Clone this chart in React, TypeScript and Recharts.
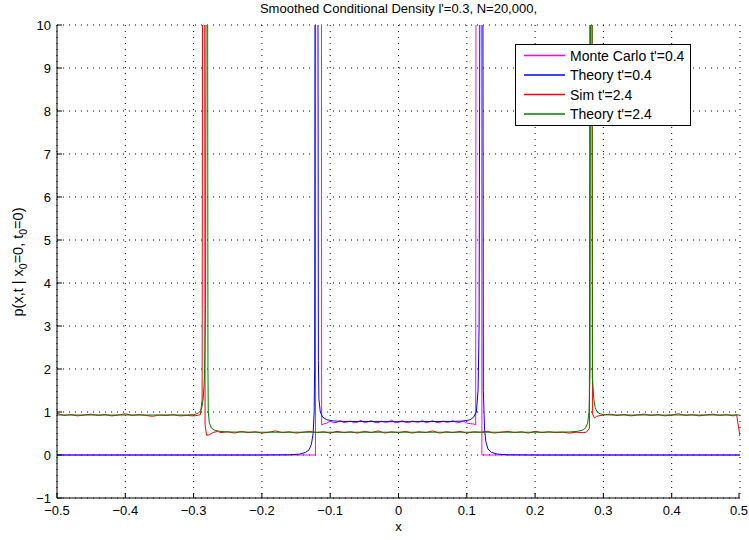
import React from 'react';
import { LineChart, Line, XAxis, YAxis, CartesianGrid } from 'recharts';

const FONT = '"Liberation Sans", Arial, Helvetica, sans-serif';

const xTicks = [-0.5, -0.4, -0.3, -0.2, -0.1, 0, 0.1, 0.2, 0.3, 0.4, 0.5];
const xTickLabels = ['−0.5', '−0.4', '−0.3', '−0.2', '−0.1', '0', '0.1', '0.2', '0.3', '0.4', '0.5'];
const yTicks = [-1, 0, 1, 2, 3, 4, 5, 6, 7, 8, 9, 10];
const yTickLabels = ['−1', '0', '1', '2', '3', '4', '5', '6', '7', '8', '9', '10'];

const seriesNames = ["Monte Carlo t'=0.4", "Theory t'=0.4", "Sim t'=2.4", "Theory t'=2.4"];
const seriesColors = ['#ff00ff', '#0000ff', '#ff0000', '#008000'];

// Monte Carlo t'=0.4 (histogram-like)
const mcX = [
  -0.5, -0.1216, -0.1213, -0.1128, -0.1125, -0.11, -0.105, -0.1, -0.095, -0.09, -0.085, -0.08,
  -0.075, -0.07, -0.065, -0.06, -0.055, -0.05, -0.045, -0.04, -0.035, -0.03, -0.025, -0.02,
  -0.015, -0.01, -0.005, 0, 0.005, 0.01, 0.015, 0.02, 0.025, 0.03, 0.035, 0.04, 0.045, 0.05,
  0.055, 0.06, 0.065, 0.07, 0.075, 0.08, 0.085, 0.09, 0.095, 0.1, 0.105, 0.11, 0.113, 0.1135,
  0.1218, 0.1221, 0.5,
];
const mcY = [
  0, 0, 12, 12, 0.7, 0.72, 0.74, 0.79, 0.75, 0.76, 0.8, 0.75, 0.77, 0.79, 0.75, 0.76, 0.81,
  0.75, 0.77, 0.8, 0.76, 0.75, 0.79, 0.76, 0.77, 0.81, 0.75, 0.76, 0.8, 0.76, 0.75, 0.79, 0.77,
  0.76, 0.81, 0.75, 0.77, 0.8, 0.76, 0.75, 0.79, 0.76, 0.77, 0.8, 0.75, 0.76, 0.79, 0.74, 0.73,
  0.72, 0.7, 12, 12, 0, 0,
];

// Theory t'=0.4
const th04X = [
  -0.5, -0.2, -0.16, -0.145, -0.136, -0.131, -0.1275, -0.125, -0.1235, -0.1228, -0.1222, -0.118,
  -0.1173, -0.1165, -0.1145, -0.111, -0.105, -0.095, -0.08, 0, 0.08, 0.095, 0.105, 0.11, 0.114,
  0.1165, 0.118, 0.1193, 0.1235, 0.1242, 0.126, 0.128, 0.131, 0.136, 0.145, 0.16, 0.2, 0.5,
];
const th04Y = [
  0, 0, 0.005, 0.02, 0.06, 0.12, 0.25, 0.5, 1.0, 2.0, 12, 12, 2.2, 1.3, 1.0, 0.88, 0.82, 0.79,
  0.78, 0.775, 0.78, 0.79, 0.82, 0.88, 1.0, 1.5, 3.0, 12, 12, 1.5, 0.6, 0.3, 0.14, 0.06, 0.02,
  0.005, 0, 0,
];

// Sim t'=2.4
const simX = [
  -0.5, -0.49, -0.48, -0.47, -0.46, -0.45, -0.44, -0.43, -0.42, -0.41, -0.4, -0.39, -0.38,
  -0.37, -0.36, -0.35, -0.34, -0.33, -0.32, -0.31, -0.3, -0.295, -0.29, -0.2875, -0.2868,
  -0.2838, -0.2832, -0.281, -0.277, -0.272, -0.265, -0.26, -0.25, -0.24, -0.23, -0.22, -0.21,
  -0.2, -0.19, -0.18, -0.17, -0.16, -0.15, -0.14, -0.13, -0.12, -0.11, -0.1, -0.09, -0.08,
  -0.07, -0.06, -0.05, -0.04, -0.03, -0.02, -0.01, 0, 0.01, 0.02, 0.03, 0.04, 0.05, 0.06, 0.07,
  0.08, 0.09, 0.1, 0.11, 0.12, 0.13, 0.14, 0.15, 0.16, 0.17, 0.18, 0.19, 0.2, 0.21, 0.22, 0.23,
  0.24, 0.25, 0.26, 0.27, 0.275, 0.2795, 0.2802, 0.2835, 0.2842, 0.287, 0.29, 0.3, 0.31, 0.32,
  0.33, 0.34, 0.35, 0.36, 0.37, 0.38, 0.39, 0.4, 0.41, 0.42, 0.43, 0.44, 0.45, 0.46, 0.47, 0.48,
  0.49, 0.495, 0.5,
];
const simY = [
  0.97, 0.92, 0.94, 0.91, 0.93, 0.95, 0.92, 0.94, 0.91, 0.93, 0.96, 0.92, 0.94, 0.92, 0.9, 0.93,
  0.92, 0.94, 0.91, 0.92, 0.91, 0.92, 0.94, 1.3, 12, 12, 0.7, 0.46, 0.47, 0.52, 0.55, 0.52, 0.54,
  0.51, 0.55, 0.52, 0.54, 0.51, 0.53, 0.56, 0.52, 0.54, 0.51, 0.53, 0.55, 0.52, 0.54, 0.51, 0.55,
  0.52, 0.54, 0.51, 0.55, 0.52, 0.56, 0.51, 0.54, 0.52, 0.55, 0.51, 0.54, 0.52, 0.56, 0.51, 0.54,
  0.52, 0.55, 0.51, 0.54, 0.53, 0.55, 0.51, 0.53, 0.55, 0.52, 0.54, 0.51, 0.55, 0.52, 0.54, 0.52,
  0.53, 0.51, 0.53, 0.52, 0.53, 0.62, 12, 12, 0.95, 0.86, 0.9, 0.93, 0.95, 0.92, 0.94, 0.91,
  0.93, 0.95, 0.92, 0.94, 0.91, 0.93, 0.96, 0.92, 0.94, 0.91, 0.93, 0.95, 0.92, 0.94, 0.91,
  0.94, 0.43,
];

// Theory t'=2.4
const th24X = [
  -0.5, -0.4, -0.31, -0.3, -0.295, -0.291, -0.288, -0.286, -0.284, -0.2825, -0.2815, -0.2795,
  -0.279, -0.2785, -0.277, -0.274, -0.27, -0.262, -0.25, -0.2, 0, 0.2, 0.25, 0.262, 0.27, 0.274,
  0.277, 0.279, 0.2805, 0.2812, 0.2832, 0.2838, 0.286, 0.288, 0.291, 0.295, 0.3, 0.31, 0.4, 0.5,
];
const th24Y = [
  0.93, 0.93, 0.93, 0.94, 0.96, 1.0, 1.1, 1.3, 1.8, 3.5, 12, 12, 2.0, 1.0, 0.75, 0.63, 0.58,
  0.55, 0.535, 0.53, 0.53, 0.53, 0.535, 0.55, 0.58, 0.63, 0.75, 1.0, 2.0, 12, 12, 1.8, 1.3, 1.1,
  1.0, 0.96, 0.94, 0.93, 0.93, 0.93,
];

const toPoints = (xs: number[], ys: number[]) => xs.map((x, i) => ({ x, y: ys[i] }));

const seriesData = [
  toPoints(mcX, mcY),
  toPoints(th04X, th04Y),
  toPoints(simX, simY),
  toPoints(th24X, th24Y),
];

const XTick = (props: any) => {
  const { x, y, payload } = props;
  const i = xTicks.indexOf(payload.value);
  return (
    <g>
      <line x1={x} x2={x} y1={y} y2={y - 5} stroke="#000" />
      <text x={x} y={y + 17} textAnchor="middle" fontSize={13} fontFamily={FONT} fill="#000">
        {xTickLabels[i]}
      </text>
    </g>
  );
};

const YTick = (props: any) => {
  const { x, y, payload } = props;
  const i = yTicks.indexOf(payload.value);
  return (
    <g>
      <line x1={x} x2={x + 5} y1={y} y2={y} stroke="#000" />
      <text x={x - 6} y={y + 4.5} textAnchor="end" fontSize={13} fontFamily={FONT} fill="#000">
        {yTickLabels[i]}
      </text>
    </g>
  );
};

function LegendBox() {
  return (
    <svg
      width={176}
      height={82}
      style={{ position: 'absolute', left: 515, top: 44, display: 'block' }}
    >
      <rect x={0.5} y={0.5} width={175} height={81} fill="#fff" stroke="#000" />
      {seriesNames.map((name, i) => (
        <g key={name}>
          <line
            x1={9}
            x2={50}
            y1={11.5 + i * 19.5}
            y2={11.5 + i * 19.5}
            stroke={seriesColors[i]}
            strokeWidth={1.5}
          />
          <text x={55} y={16.5 + i * 19.5} fontSize={14} fontFamily={FONT} fill="#000">
            {name}
          </text>
        </g>
      ))}
    </svg>
  );
}

export default function App() {
  return (
    <div style={{ position: 'fixed', left: 0, top: 0, width: 749, height: 540, background: '#fff' }}>
      <div
        style={{
          position: 'absolute',
          left: 57,
          width: 683,
          top: 1,
          textAlign: 'center',
          fontFamily: FONT,
          fontSize: 13,
          color: '#000',
        }}
      >
        Smoothed Conditional Density l'=0.3, N=20,000,
      </div>
      <LineChart width={749} height={540} margin={{ top: 25, right: 9, bottom: 0, left: 0 }}>
        <CartesianGrid stroke="#000" strokeDasharray="1 5" />
        <XAxis
          dataKey="x"
          type="number"
          domain={[-0.5, 0.5]}
          ticks={xTicks}
          allowDataOverflow
          height={42}
          tickSize={0}
          tickMargin={0}
          tickLine={false}
          tick={<XTick />}
          axisLine={{ stroke: '#000' }}
          label={{
            content: () => (
              <text x={398.5} y={531} textAnchor="middle" fontSize={13} fontFamily={FONT} fill="#000">
                x
              </text>
            ),
          }}
        />
        <YAxis
          type="number"
          domain={[-1, 10]}
          ticks={yTicks}
          allowDataOverflow
          width={57}
          tickSize={0}
          tickMargin={0}
          tickLine={false}
          tick={<YTick />}
          axisLine={{ stroke: '#000' }}
          label={{
            content: () => (
              <text
                transform="translate(23,262) rotate(-90)"
                textAnchor="middle"
                fontSize={14.5}
                fontFamily={FONT}
                fill="#000"
              >
                p(x,t | x<tspan dy={3.5} fontSize={10.5}>0</tspan>
                <tspan dy={-3.5}>=0, t</tspan>
                <tspan dy={3.5} fontSize={10.5}>0</tspan>
                <tspan dy={-3.5}>=0)</tspan>
              </text>
            ),
          }}
        />
        {seriesData.map((d, i) => (
          <Line
            key={seriesNames[i]}
            data={d}
            dataKey="y"
            name={seriesNames[i]}
            type="linear"
            stroke={seriesColors[i]}
            strokeWidth={1}
            dot={false}
            activeDot={false}
            isAnimationActive={false}
          />
        ))}
      </LineChart>
      <LegendBox />
    </div>
  );
}
